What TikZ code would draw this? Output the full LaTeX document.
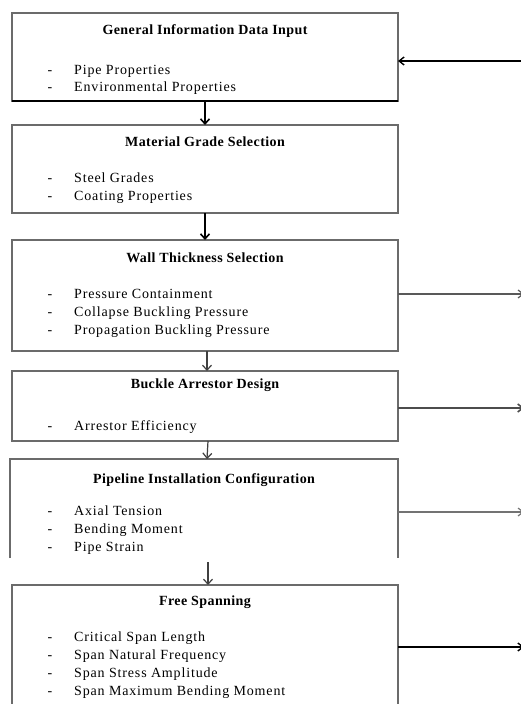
\documentclass[tikz,border=0pt]{standalone}
\usepackage{fontspec}
\setmainfont{Liberation Serif}
\newfontfamily\itemfont[LetterSpace=6]{Liberation Serif}
\newfontfamily\titlefont[LetterSpace=3]{Liberation Serif}
\usetikzlibrary{arrows.meta}
\definecolor{boxgray}{gray}{0.42}
\definecolor{linegray}{gray}{0.35}
\tikzset{
  boxnode/.style={draw=boxgray, line width=1.3pt, minimum width=386pt, inner sep=0pt, outer sep=0pt},
  openbox/.style={draw=none, minimum width=388pt, inner sep=0pt, outer sep=0pt},
  titletext/.style={font=\titlefont\fontsize{14}{16}\selectfont\bfseries, inner sep=0pt, anchor=base},
  itemtext/.style={font=\itemfont\fontsize{14}{18}\selectfont, inner sep=0pt, anchor=base west},
  dashtext/.style={font=\itemfont\fontsize{14}{18}\selectfont, inner sep=0pt, anchor=base},
  flowthick/.style={line width=2pt, -{Straight Barb[length=5pt,width=9pt,line width=1.6pt]}},
  flowthin/.style={line width=1.2pt, draw=black!75, -{Straight Barb[length=5pt,width=9pt,line width=1.2pt]}},
  sidearrow/.style={line width=1.4pt, -{Straight Barb[length=5pt,width=8pt]}},
}
\begin{document}
\begin{tikzpicture}[x=1pt,y=-1pt]
\useasboundingbox[fill=white] (0,0) rectangle (520,704);

% boxes
\node[boxnode, minimum height=88pt] (b1) at (205,57) {};
\draw[black, line width=1.6pt] (b1.south west) -- (b1.south east);
\node[boxnode, minimum height=88pt] (b2) at (205,169) {};
\node[boxnode, minimum height=111pt] (b3) at (205,295.5) {};
\node[boxnode, minimum height=70pt] (b4) at (205,406) {};
\node[openbox, minimum height=99pt] (b5) at (204,508.5) {};
\draw[boxgray, line width=1.3pt] (b5.south west) -- (b5.north west) -- (b5.north east) -- (b5.south east);
\node[openbox, minimum height=123pt, minimum width=386pt] (b6) at (205,646.5) {};
\draw[boxgray, line width=1.3pt] (b6.south west) -- (b6.north west) -- (b6.north east) -- (b6.south east);

% titles
\node[titletext] (t1) at (205,34) {General Information Data Input};
\node[titletext] (t2) at (205,146) {Material Grade Selection};
\node[titletext] (t3) at (205,262) {Wall Thickness Selection};
\node[titletext] (t4) at (205,388) {Buckle Arrestor Design};
\node[titletext] (t5) at (204,483) {Pipeline Installation Configuration};
\node[titletext] (t6) at (205,605) {Free Spanning};

% items
\foreach \y/\txt [count=\i] in {74/Pipe Properties, 91/Environmental Properties}{
  \node[dashtext] (d1-\i) at (50,\y) {-};
  \node[itemtext] (i1-\i) at (74,\y) {\txt};
}
\foreach \y/\txt [count=\i] in {182/Steel Grades, 200/Coating Properties}{
  \node[dashtext] (d2-\i) at (50,\y) {-};
  \node[itemtext] (i2-\i) at (74,\y) {\txt};
}
\foreach \y/\txt [count=\i] in {298/Pressure Containment, 316/Collapse Buckling Pressure, 334/Propagation Buckling Pressure}{
  \node[dashtext] (d3-\i) at (50,\y) {-};
  \node[itemtext] (i3-\i) at (74,\y) {\txt};
}
\foreach \y/\txt [count=\i] in {430/Arrestor Efficiency}{
  \node[dashtext] (d4-\i) at (50,\y) {-};
  \node[itemtext] (i4-\i) at (74,\y) {\txt};
}
\foreach \y/\txt [count=\i] in {515/Axial Tension, 533/Bending Moment, 551/Pipe Strain}{
  \node[dashtext] (d5-\i) at (50,\y) {-};
  \node[itemtext] (i5-\i) at (74,\y) {\txt};
}
\foreach \y/\txt [count=\i] in {641/Critical Span Length, 659/Span Natural Frequency, 677/Span Stress Amplitude, 695/Span Maximum Bending Moment}{
  \node[dashtext] (d6-\i) at (50,\y) {-};
  \node[itemtext] (i6-\i) at (74,\y) {\txt};
}

% vertical flow arrows
\draw[flowthick] (b1.south) -- (b2.north);
\draw[flowthick] (b2.south) -- (b3.north);
\draw[flowthin] ([xshift=2pt]b3.south) -- ([xshift=2pt]b4.north);
\draw[flowthin] ([xshift=3pt]b4.south) -- ([xshift=3pt]b5.north);
\coordinate (a5) at (208,562);
\draw[flowthin] (a5) -- (a5 |- b6.north);

% side connectors (tips run past the right edge, as in the reference)
\coordinate (r1) at (521,61);
\coordinate (r3) at (524,294);
\coordinate (r4) at (524,408);
\coordinate (r5) at (524,512);
\coordinate (r6) at (524,647);
\draw[sidearrow, black] (r1) -- (r1 -| b1.east);
\draw[sidearrow, linegray, line width=1.2pt] (r3 -| b3.east) -- (r3);
\draw[sidearrow, black!70, line width=1.6pt] (r4 -| b4.east) -- (r4);
\draw[sidearrow, black!55, line width=1.2pt] (r5 -| b5.east) -- (r5);
\draw[sidearrow, black, line width=1.4pt] (r6 -| b6.east) -- (r6);
\end{tikzpicture}
\end{document}
